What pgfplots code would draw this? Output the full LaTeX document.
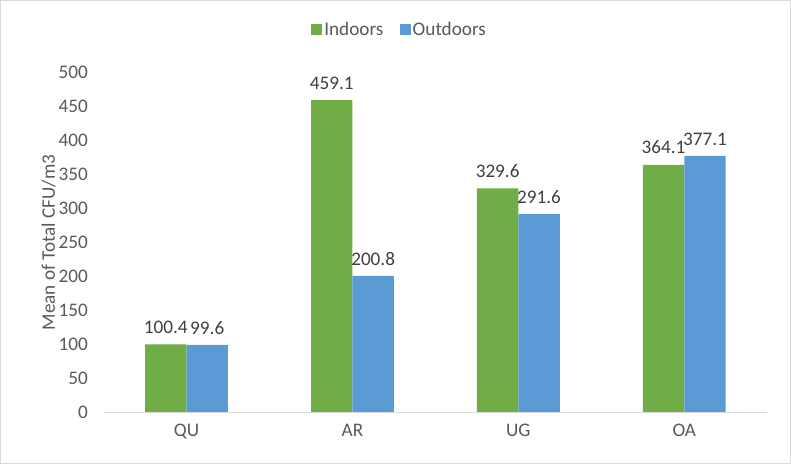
\documentclass[border=0pt]{standalone}
\usepackage{fontspec}
\setmainfont{Carlito}
\usepackage{pgfplots}
\pgfplotsset{compat=1.18}

\definecolor{cgreen}{HTML}{70AD47}
\definecolor{cblue}{HTML}{5B9BD5}
\definecolor{ctext}{HTML}{404040}
\definecolor{cgray}{HTML}{595959}
\definecolor{caxis}{HTML}{D9D9D9}

\begin{document}
\begin{tikzpicture}[font=\fontsize{19}{22}\selectfont]
  % outer frame of the chart
  \draw[caxis, line width=1pt] (-102pt,-50pt) rectangle (680pt,408pt);
  \begin{axis}[
    scale only axis,
    width=657pt, height=337pt,
    ybar=0pt, bar width=41pt,
    xmin=-0.5, xmax=3.5,
    ymin=0, ymax=500,
    ytick distance=50,
    xtick=data,
    xticklabels={QU,AR,UG,OA},
    axis line style={draw=none},
    axis x line*=bottom,
    axis y line*=left,
    major tick length=0pt,
    tick label style={text=cgray},
    /pgf/number format/assume math mode=true,
    yticklabel style={xshift=-12pt},
    xticklabel style={yshift=-8pt},
    ylabel={Mean of Total CFU/m3},
    ylabel style={text=cgray, yshift=-4pt},
    nodes near coords,
    every node near coord/.append style={text=ctext, yshift=7pt,
      /pgf/number format/.cd, fixed, fixed zerofill, precision=1},
    legend columns=2,
    legend style={draw=none, at={(rel axis cs:0.446,1.125)}, anchor=center,
      text=cgray, inner xsep=1pt,
      /tikz/every even column/.append style={column sep=14pt}},
    legend image code/.code={\fill[#1] (4pt,-5.5pt) rectangle (15pt,5.5pt);},
    clip=false,
  ]
    \addplot[fill=cgreen, draw=none] coordinates {(0,100.4) (1,459.1) (2,329.6) (3,364.1)};
    \addplot[fill=cblue, draw=none] coordinates {(0,99.6) (1,200.8) (2,291.6) (3,377.1)};
    \legend{Indoors,Outdoors}
    \draw[caxis, line width=1pt] (rel axis cs:0,0) -- (rel axis cs:1,0);
  \end{axis}
\end{tikzpicture}
\end{document}
